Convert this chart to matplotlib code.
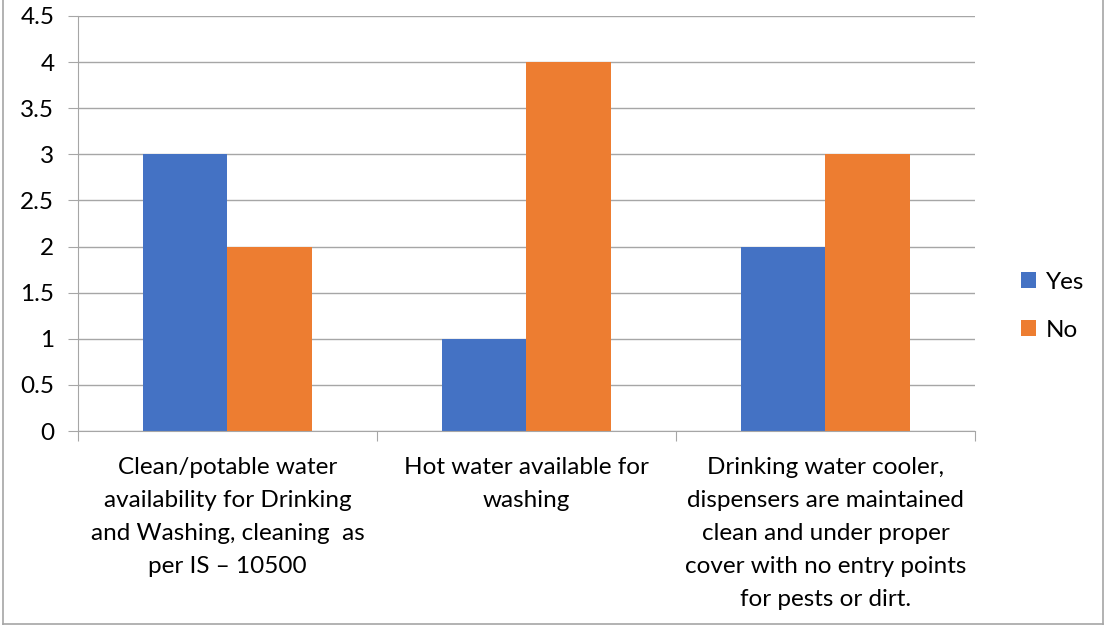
import numpy as np
import matplotlib
matplotlib.use("Agg")
import matplotlib.pyplot as plt
from matplotlib.lines import Line2D

categories = [
    "Clean/potable water\navailability for Drinking\nand Washing, cleaning  as\nper IS \u2013 10500",
    "Hot water available for\nwashing",
    "Drinking water cooler,\ndispensers are maintained\nclean and under proper\ncover with no entry points\nfor pests or dirt.",
]
yes_counts = [3, 1, 2]
no_counts = [2, 4, 3]
series_names = ["Yes", "No"]
y_ticks = [0, 0.5, 1, 1.5, 2, 2.5, 3, 3.5, 4, 4.5]
y_tick_labels = ["0", "0.5", "1", "1.5", "2", "2.5", "3", "3.5", "4", "4.5"]

plt.rcParams["font.family"] = ["Lato", "DejaVu Sans"]
grid_color = "#a6a6a6"
font_size = 17.5

fig = plt.figure(figsize=(11.06, 6.25), dpi=100)
ax = fig.add_axes([0.0705, 0.3104, 0.811, 0.664])

x = np.arange(len(categories))
width = 0.284
ax.bar(x - width / 2, yes_counts, width, color="#4472C4", label=series_names[0])
ax.bar(x + width / 2, no_counts, width, color="#ED7D31", label=series_names[1])

ax.set_xlim(-0.5, len(categories) - 0.5)
ax.set_ylim(0, 4.5)
ax.set_yticks(y_ticks)
ax.set_yticklabels(y_tick_labels, fontsize=font_size)
ax.yaxis.grid(True, color=grid_color, linewidth=1)
ax.set_axisbelow(True)

# category labels sit under the groups, tick marks at group boundaries
ax.set_xticks(np.arange(len(categories) + 1) - 0.5)
ax.set_xticklabels([])
ax.set_xticks(x, minor=True)
ax.set_xticklabels(categories, minor=True, fontsize=font_size, linespacing=1.7, va="top")
ax.tick_params(axis="x", which="minor", length=0, pad=19)
ax.tick_params(axis="x", which="major", length=7, color=grid_color)
ax.tick_params(axis="y", length=7, color=grid_color, pad=10)

for side in ["top", "right"]:
    ax.spines[side].set_visible(False)
for side in ["left", "bottom"]:
    ax.spines[side].set_color(grid_color)

ax.legend(loc="center left", bbox_to_anchor=(0.903, 0.51), bbox_transform=fig.transFigure,
          frameon=False, fontsize=font_size, handlelength=0.65, handleheight=0.65,
          handletextpad=0.4, labelspacing=1.1)

# outer chart border
for xs, ys in [([0.003, 0.003], [0, 1]), ([0.997, 0.997], [0, 1]), ([0.003, 0.997], [0.002, 0.002])]:
    fig.add_artist(Line2D(xs, ys, color="#a6a6a6", linewidth=1.2, transform=fig.transFigure))

fig.savefig("out.png", dpi=100)
